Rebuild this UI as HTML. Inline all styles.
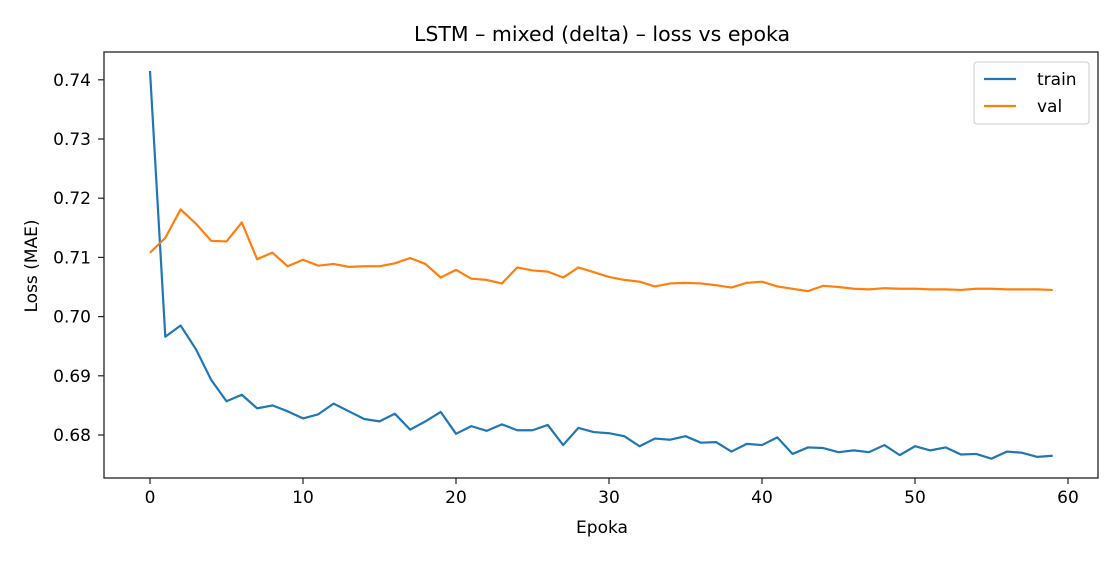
<!DOCTYPE html>
<html><head><meta charset="utf-8"><style>
body{margin:0;background:#fff;}
svg{font-family:"DejaVu Sans","Liberation Sans",sans-serif;}
</style></head><body>
<svg id="chart" width="1120" height="560" xmlns="http://www.w3.org/2000/svg">
<rect width="1120" height="560" fill="#fff"/>
<text x="602" y="41" text-anchor="middle" font-size="20.5" fill="#000">LSTM – mixed (delta) – loss vs epoka</text>
<g id="grid"></g>
<g id="series"></g>
<rect x="104" y="52" width="994" height="426" fill="none" stroke="#222" stroke-width="1.3"/>
<text x="602" y="533" text-anchor="middle" font-size="17">Epoka</text>
<text transform="translate(37,266) rotate(-90)" text-anchor="middle" font-size="17">Loss (MAE)</text>
<g>
<rect x="974" y="62" width="115" height="62" rx="3" fill="#fff" stroke="#ccc"/>
<line x1="984" y1="79" x2="1016" y2="79" stroke="#1f77b4" stroke-width="2.2"/>
<text x="1037" y="85" font-size="17">train</text>
<line x1="984" y1="106" x2="1016" y2="106" stroke="#ff7f0e" stroke-width="2.2"/>
<text x="1037" y="112" font-size="17">val</text>
</g>
</svg>
<script>
const train=[0.7415,0.6966,0.6985,0.6945,0.6893,0.6857,0.6868,0.6845,0.685,0.684,0.6828,0.6835,0.6853,0.684,0.6827,0.6823,0.6836,0.6809,0.6823,0.6839,0.6802,0.6815,0.6807,0.6818,0.6808,0.6808,0.6817,0.6783,0.6812,0.6805,0.6803,0.6798,0.6781,0.6794,0.6792,0.6798,0.6787,0.6788,0.6772,0.6785,0.6783,0.6796,0.6768,0.6779,0.6778,0.6771,0.6774,0.6771,0.6783,0.6766,0.6781,0.6774,0.6779,0.6767,0.6768,0.676,0.6772,0.677,0.6763,0.6765];
const val=[0.7108,0.7133,0.7181,0.7157,0.7128,0.7127,0.7159,0.7097,0.7108,0.7085,0.7096,0.7086,0.7089,0.7084,0.7085,0.7085,0.709,0.7099,0.7089,0.7066,0.7079,0.7064,0.7062,0.7056,0.7083,0.7078,0.7076,0.7066,0.7083,0.7075,0.7067,0.7062,0.7059,0.7051,0.7056,0.7057,0.7056,0.7053,0.7049,0.7057,0.7059,0.7051,0.7047,0.7043,0.7052,0.705,0.7047,0.7046,0.7048,0.7047,0.7047,0.7046,0.7046,0.7045,0.7047,0.7047,0.7046,0.7046,0.7046,0.7045];
const xTicks=[0,10,20,30,40,50,60];
const yTicks=[0.68,0.69,0.70,0.71,0.72,0.73,0.74];
const NS="http://www.w3.org/2000/svg";
function xs(e){return 150+(e/60)*918;}
function ys(v){return 435-(v-0.68)/0.01*59.2;}
const g=document.getElementById('grid');
function mk(t,a,p){const el=document.createElementNS(NS,t);for(const k in a)el.setAttribute(k,a[k]);p.appendChild(el);return el;}
xTicks.forEach(t=>{
 const l=mk('line',{x1:xs(t),x2:xs(t),y1:478,y2:484,stroke:'#222','stroke-width':1.2},g);
 
 
 const tx=mk('text',{x:xs(t),y:503,'text-anchor':'middle','font-size':17},g);tx.textContent=t;
 
 
});
yTicks.forEach(t=>{
 const l=mk('line',{x1:98,x2:104,y1:ys(t),y2:ys(t),stroke:'#222','stroke-width':1.2},g);
 
 
 const tx=mk('text',{x:91,y:ys(t)+6,'text-anchor':'end','font-size':17},g);tx.textContent=t.toFixed(2);
 
 
});
const s=document.getElementById('series');
[[train,'#1f77b4','train-line'],[val,'#ff7f0e','val-line']].forEach(([d,c,n])=>{
 const p=mk('polyline',{points:d.map((v,i)=>xs(i)+','+ys(v)).join(' '),fill:'none',stroke:c,'stroke-width':2.2,'stroke-linejoin':'round'},s);
 
 
});
</script>
</body></html>
